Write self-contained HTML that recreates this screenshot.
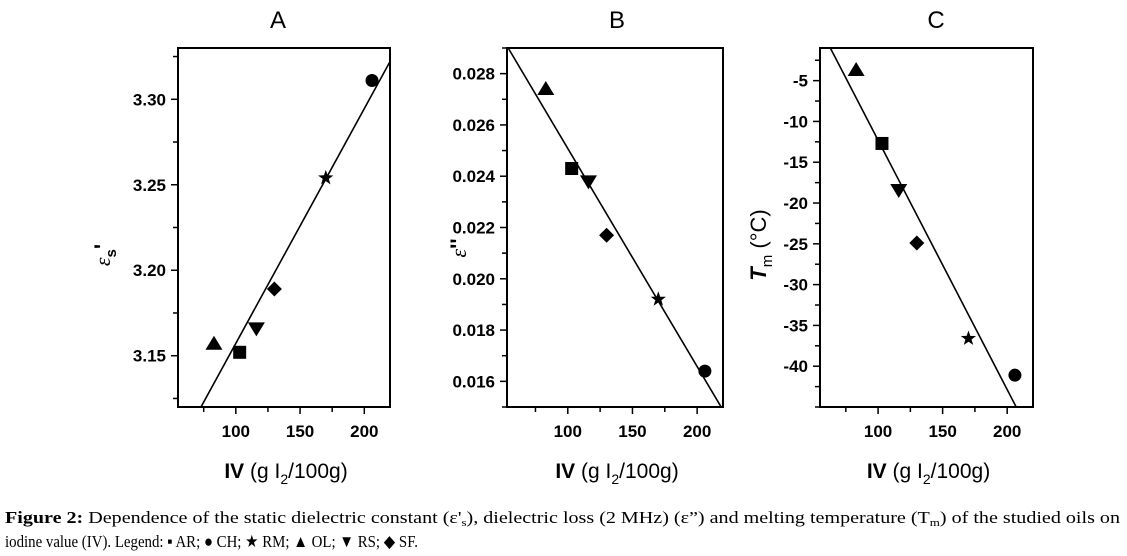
<!DOCTYPE html>
<html><head><meta charset="utf-8"><style>
body{margin:0;background:#fff;}
svg{display:block;font-family:"Liberation Sans",Arial,sans-serif;}
</style></head><body>
<svg id="fig" width="1127" height="556" xmlns="http://www.w3.org/2000/svg"></svg>
<script>
const categories = ["OL","AR","RS","SF","RM","CH"];
const shapes = ["triangle","square","down","diamond","star","circle"];
const iv = [83,103,116,130,170,206];
const epsS = [3.157,3.152,3.166,3.189,3.254,3.311];
const epsLoss = [0.0274,0.0243,0.0238,0.0217,0.0192,0.0164];
const tm = [-3.7,-12.7,-18.4,-24.9,-36.6,-41.1];
const xTicks = [100,150,200];
const yTicksA = [3.15,3.20,3.25,3.30];
const yTicksB = [0.016,0.018,0.020,0.022,0.024,0.026,0.028];
const yTicksC = [-5,-10,-15,-20,-25,-30,-35,-40];

const NS="http://www.w3.org/2000/svg";
const svg=document.getElementById('fig');
function mk(t,a,p){const e=document.createElementNS(NS,t);for(const k in a)e.setAttribute(k,a[k]);(p||svg).appendChild(e);return e;}

const panels=[
 {key:"a",title:"A",left:178,right:390,top:48,bottom:407,xmin:55,xmax:220,ymin:3.12,ymax:3.33,ys:epsS,yt:yTicksA,minor:0.025,dec:2,tx:278},
 {key:"b",title:"B",left:507,right:723,top:48,bottom:407,xmin:53,xmax:220,ymin:0.015,ymax:0.029,ys:epsLoss,yt:yTicksB,minor:0.001,dec:3,tx:617},
 {key:"c",title:"C",left:820,right:1033,top:48,bottom:407,xmin:55,xmax:220,ymin:-45,ymax:-1,ys:tm,yt:yTicksC,minor:2.5,dec:0,tx:936}
];

function marker(g,shape,cx,cy){
  let e;
  if(shape==="circle") e=mk('circle',{cx,cy,r:6.5},g);
  else if(shape==="square") e=mk('rect',{x:cx-6.5,y:cy-6.5,width:13,height:13},g);
  else if(shape==="triangle") e=mk('polygon',{points:`${cx},${cy-8} ${cx+8.5},${cy+6} ${cx-8.5},${cy+6}`},g);
  else if(shape==="down") e=mk('polygon',{points:`${cx-8.5},${cy-6} ${cx+8.5},${cy-6} ${cx},${cy+8}`},g);
  else if(shape==="diamond") e=mk('polygon',{points:`${cx},${cy-7.5} ${cx+7.5},${cy} ${cx},${cy+7.5} ${cx-7.5},${cy}`},g);
  else { let p=[];for(let i=0;i<10;i++){const r=i%2?3.2:8;const a=-Math.PI/2+i*Math.PI/5;p.push((cx+r*Math.cos(a)).toFixed(1)+","+(cy+r*Math.sin(a)).toFixed(1));} e=mk('polygon',{points:p.join(" ")},g);}
  e.setAttribute('fill','#000');
  return e;
}

panels.forEach(P=>{
  const X=v=>P.left+(v-P.xmin)/(P.xmax-P.xmin)*(P.right-P.left);
  const Y=v=>P.bottom-(v-P.ymin)/(P.ymax-P.ymin)*(P.bottom-P.top);
  const g=mk('g',{});
  
  
  const t=mk('text',{x:P.tx,y:28,'font-size':24,'text-anchor':'middle'},g);t.textContent=P.title;
  
  
  const fr=mk('rect',{x:P.left,y:P.top,width:P.right-P.left,height:P.bottom-P.top,fill:'none',stroke:'#000','stroke-width':2},g);
  
  
  for(let v=75;v<=P.xmax;v+=25){const x=X(v);mk('line',{x1:x,x2:x,y1:P.bottom,y2:P.bottom+(v%50===0?7:5),stroke:'#000','stroke-width':1.5},g);}
  xTicks.forEach(v=>{const l=mk('text',{x:X(v),y:P.bottom+30,'font-size':17,'font-weight':'bold','text-anchor':'middle'},g);l.textContent=v;
    
    });
  const n0=Math.ceil(P.ymin/P.minor-1e-6),n1=Math.floor(P.ymax/P.minor+1e-6);
  for(let n=n0;n<=n1;n++){const v=n*P.minor;const y=Y(v);const major=P.yt.some(t=>Math.abs(t-v)<P.minor/10);mk('line',{x1:P.left-(major?7:5),x2:P.left,y1:y,y2:y,stroke:'#000','stroke-width':1.5},g);}
  P.yt.forEach(v=>{const l=mk('text',{x:P.left-12,y:Y(v)+6,'font-size':17,'font-weight':'bold','text-anchor':'end'},g);l.textContent=v.toFixed(P.dec);
    
    });
  const xt=mk('text',{x:(P.left+P.right)/2+2,y:478,'font-size':21,'text-anchor':'middle'},g);
  xt.innerHTML='<tspan font-weight="bold">IV</tspan> (g I<tspan font-size="14" dy="6">2</tspan><tspan dy="-6">/100g)</tspan>';
  
  
  const n=iv.length,mx=iv.reduce((a,b)=>a+b)/n,my=P.ys.reduce((a,b)=>a+b)/n;
  let sxy=0,sxx=0;for(let i=0;i<n;i++){sxy+=(iv[i]-mx)*(P.ys[i]-my);sxx+=(iv[i]-mx)**2;}
  const b=sxy/sxx,a=my-b*mx;
  const cp=mk('clipPath',{id:'clip'+P.key},g);mk('rect',{x:P.left,y:P.top,width:P.right-P.left,height:P.bottom-P.top},cp);
  const fl=mk('line',{x1:X(P.xmin),y1:Y(a+b*P.xmin),x2:X(P.xmax),y2:Y(a+b*P.xmax),stroke:'#000','stroke-width':1.6,'clip-path':`url(#clip${P.key})`},g);
  
  
  for(let i=0;i<n;i++){const m=marker(g,shapes[i],X(iv[i]),Y(P.ys[i]));
    
    }
});

function ytitle(x,y,html,name){const e=mk('text',{x,y,'font-size':22,'text-anchor':'middle',transform:`rotate(-90 ${x} ${y})`});e.innerHTML=html;
  
  }
ytitle(110,255,'<tspan font-style="italic" font-family="Liberation Serif,serif">ε</tspan><tspan font-size="15" font-weight="bold" dy="6">s</tspan><tspan dy="-6" font-weight="bold">\'</tspan>','y-axis-title-a');
ytitle(466,248,'<tspan font-style="italic" font-family="Liberation Serif,serif">ε</tspan><tspan font-weight="bold">\'\'</tspan>','y-axis-title-b');
ytitle(766,245,'<tspan font-style="italic" font-weight="bold">T</tspan><tspan font-size="15" dy="6">m</tspan><tspan dy="-6"> (°C)</tspan>','y-axis-title-c');

const c1=mk('text',{x:5,y:523,'font-size':17,'font-family':'Liberation Serif,serif',textLength:1115,lengthAdjust:'spacingAndGlyphs'});
c1.innerHTML='<tspan font-weight="bold">Figure 2:</tspan> Dependence of the static dielectric constant (ε\'<tspan font-size="11" dy="3">s</tspan><tspan dy="-3">), dielectric loss (2 MHz) (ε”) and melting temperature (T</tspan><tspan font-size="11" dy="3">m</tspan><tspan dy="-3">) of the studied oils on</tspan>';


const c2=mk('text',{x:5,y:547,'font-size':17,'font-family':'Liberation Serif,serif',textLength:413,lengthAdjust:'spacingAndGlyphs'});
c2.textContent='iodine value (IV). Legend: ▪ AR; ● CH; ★ RM; ▲ OL; ▼ RS; ◆ SF.';


</script>
</body></html>
